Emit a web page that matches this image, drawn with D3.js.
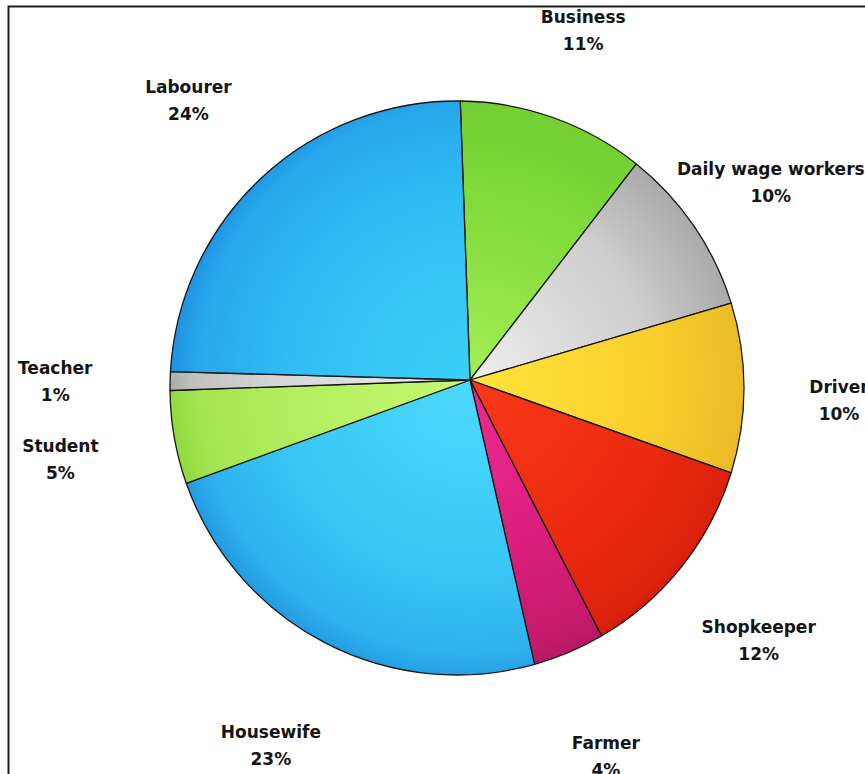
<!DOCTYPE html>
<html>
<head>
<meta charset="utf-8">
<script src="https://cdn.jsdelivr.net/npm/d3@7"></script>
<style>
  html, body { margin: 0; padding: 0; background: #fff; }
  svg { display: block; }
  .lbl { font-family: "DejaVu Sans", Verdana, sans-serif; font-weight: bold; font-size: 17px; fill: #151515; }
</style>
</head>
<body>
<svg id="chart" width="865" height="774"></svg>
<script>
// Occupation shares (percent), clockwise from the top
const categories = ["Business", "Daily wage workers", "Driver", "Shopkeeper", "Farmer",
                    "Housewife", "Student", "Teacher", "Labourer"];
const shares = [11, 10, 10, 12, 4, 23, 5, 1, 24];

// Slice shading: colour near the hub, body colour, rim colour
const hubColors  = ["#a4ee56", "#eeeeee", "#ffe53a", "#f63a18", "#ee2a94", "#4cdafb", "#c8f872", "#ececec", "#3ad0f8"];
const bodyColors = ["#80da3a", "#cdcdcd", "#f9cf2c", "#ec2a10", "#d81e7a", "#38c8f5", "#b2ee5e", "#d8d8d8", "#30bdf2"];
const rimColors  = ["#62c42a", "#7c7c7c", "#d8a21e", "#c6180a", "#a81459", "#2298e2", "#8ed83c", "#a8a8a8", "#1c8ce2"];

const W = 865, H = 774;
const svg = d3.select("#chart");

// Tilted disc: slices meet at the hub, the rim is a circle around a slightly offset centre
const hub = [470, 380];
const rim = { cx: 457, cy: 388, r: 287 };
const labelRing = { cx: 447, cy: 395, r: 392 };
const deg = Math.PI / 180;
const start = -2 * deg;

const pie = d3.pie().sort(null).value(d => d).startAngle(start).endAngle(start + 2 * Math.PI);
const arcs = pie(shares);

// Point where a ray from the hub (angle clockwise from 12 o'clock) meets a circle
function hit(theta, ring) {
  const ux = Math.sin(theta), uy = -Math.cos(theta);
  const dx = hub[0] - ring.cx, dy = hub[1] - ring.cy;
  const b = dx * ux + dy * uy;
  const t = -b + Math.sqrt(b * b - (dx * dx + dy * dy) + ring.r * ring.r);
  return [hub[0] + t * ux, hub[1] + t * uy];
}

function slicePath(a) {
  const p0 = hit(a.startAngle, rim), p1 = hit(a.endAngle, rim);
  const phi0 = Math.atan2(p0[1] - rim.cy, p0[0] - rim.cx);
  let phi1 = Math.atan2(p1[1] - rim.cy, p1[0] - rim.cx);
  if (phi1 < phi0) phi1 += 2 * Math.PI;
  const p = d3.path();
  p.moveTo(hub[0], hub[1]);
  p.lineTo(p0[0], p0[1]);
  p.arc(rim.cx, rim.cy, rim.r, phi0, phi1, false);
  p.closePath();
  return p.toString();
}

// Radial shading centred on the hub
const defs = svg.append("defs");
arcs.forEach((a, i) => {
  const g = defs.append("radialGradient")
    .attr("id", "shade" + i)
    .attr("gradientUnits", "userSpaceOnUse")
    .attr("cx", hub[0]).attr("cy", hub[1]).attr("r", 305);
  g.append("stop").attr("offset", 0).attr("stop-color", hubColors[i]);
  g.append("stop").attr("offset", 0.6).attr("stop-color", bodyColors[i]);
  g.append("stop").attr("offset", 0.9).attr("stop-color", d3.interpolateRgb(bodyColors[i], rimColors[i])(0.45));
  g.append("stop").attr("offset", 1).attr("stop-color", rimColors[i]);
});

// Frame
svg.append("path")
  .attr("d", `M8.5,${H} V6.5 H${W}`)
  .attr("fill", "none")
  .attr("stroke", "#1e1e1e")
  .attr("stroke-width", 2);

// Slices
svg.append("g").selectAll("path")
  .data(arcs)
  .join("path")
  .attr("d", slicePath)
  .attr("fill", (d, i) => `url(#shade${i})`)
  .attr("stroke", "#161616")
  .attr("stroke-width", 1.3)
  .attr("stroke-linejoin", "round");

// Labels: name and share, placed along each slice's middle direction
const labels = svg.append("g").selectAll("g")
  .data(arcs)
  .join("g")
  .attr("transform", d => {
    const mid = (d.startAngle + d.endAngle) / 2;
    const [x, y] = hit(mid, labelRing);
    return `translate(${x},${y + 10 * Math.max(0, Math.sin(mid))})`;
  });

labels.append("text")
  .attr("class", "lbl")
  .attr("text-anchor", "middle")
  .attr("y", -13.5)
  .attr("dy", "0.35em")
  .text((d, i) => categories[i]);

labels.append("text")
  .attr("class", "lbl")
  .attr("text-anchor", "middle")
  .attr("y", 13.5)
  .attr("dy", "0.35em")
  .text(d => d.data + "%");
</script>
</body>
</html>
